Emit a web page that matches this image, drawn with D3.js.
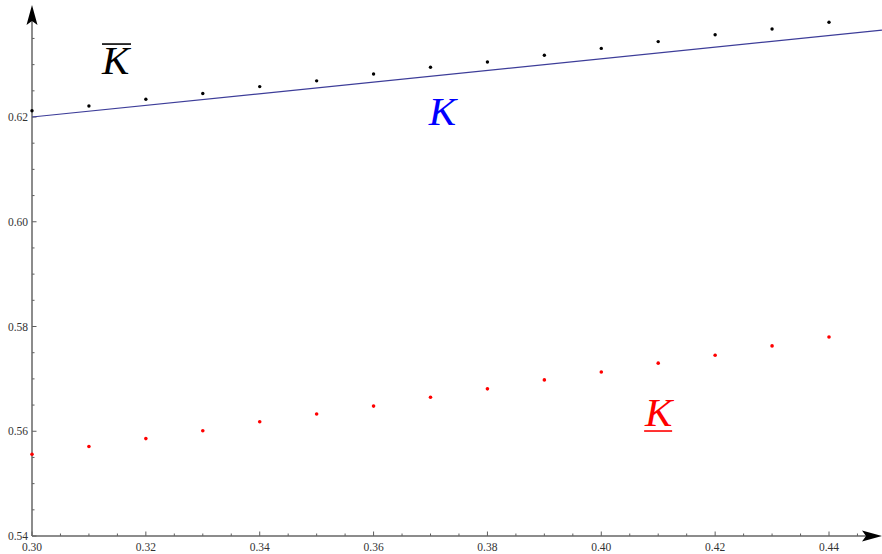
<!DOCTYPE html>
<html>
<head>
<meta charset="utf-8">
<script src="https://cdn.jsdelivr.net/npm/d3@7"></script>
<style>
  body { margin: 0; background: #fff; }
  svg { display: block; }
</style>
</head>
<body>
<svg id="chart" width="882" height="554"></svg>
<script>
// data
const xs = [0.30, 0.31, 0.32, 0.33, 0.34, 0.35, 0.36, 0.37, 0.38, 0.39, 0.40, 0.41, 0.42, 0.43, 0.44];
const upperK = [0.6212, 0.6221, 0.6234, 0.6245, 0.6258, 0.6269, 0.6282, 0.6295, 0.6305, 0.6318, 0.6331, 0.6344, 0.6357, 0.6368, 0.6381];
const lowerK = [0.5556, 0.5571, 0.5586, 0.5601, 0.5618, 0.5633, 0.5648, 0.5665, 0.5681, 0.5698, 0.5713, 0.5730, 0.5745, 0.5763, 0.5780];
const lineX = [0.30, 0.4493];
const lineY = [0.6200, 0.6366];
const xTicks = [0.30, 0.32, 0.34, 0.36, 0.38, 0.40, 0.42, 0.44];
const yTicks = [0.54, 0.56, 0.58, 0.60, 0.62];
const labels = [
    {text: 'K', x: 0.3123, y: 0.6282, color: '#000', deco: 'over'},
    {text: 'K', x: 0.3697, y: 0.6185, color: '#0000ff', deco: 'none'},
    {text: 'K', x: 0.4077, y: 0.5610, color: '#ff0000', deco: 'under'}
];

let svg = d3.select('#chart');

// scales
let xScale = d3.scaleLinear().domain([0.30, 0.44]).range([32, 829]);
let yScale = d3.scaleLinear().domain([0.54, 0.62]).range([536, 117]);
let xEnd = xScale.invert(882);
let yEnd = yScale.invert(5);

// minor ticks every 0.005
let xMinor = d3.range(0, 30).map(i => 0.30 + i * 0.005).filter(v => xScale(v) < 862);
let yMinor = d3.range(0, 21).map(i => 0.54 + i * 0.005).filter(v => yScale(v) > 24);

let axisColor = '#666';
let axes = svg.append('g');

// x axis ticks (pointing up)
axes.selectAll('.xminor')
    .data(xMinor)
    .enter()
        .append('line')
        .attr('x1', d => xScale(d))
        .attr('x2', d => xScale(d))
        .attr('y1', yScale(0.54))
        .attr('y2', d => yScale(0.54) - (xTicks.some(t => Math.abs(t - d) < 1e-6) ? 4.5 : 2.5))
        .attr('stroke', '#333')
        .attr('stroke-width', 0.8);

// y axis ticks (pointing right)
axes.selectAll('.yminor')
    .data(yMinor)
    .enter()
        .append('line')
        .attr('y1', d => yScale(d))
        .attr('y2', d => yScale(d))
        .attr('x1', xScale(0.30))
        .attr('x2', d => xScale(0.30) + (yTicks.some(t => Math.abs(t - d) < 1e-6) ? 4.5 : 2.5))
        .attr('stroke', '#333')
        .attr('stroke-width', 0.8);

// axis lines
axes.append('line')
    .attr('x1', xScale(0.30)).attr('x2', xScale(xEnd) - 10)
    .attr('y1', yScale(0.54)).attr('y2', yScale(0.54))
    .attr('stroke', axisColor).attr('stroke-width', 1.5);
axes.append('line')
    .attr('x1', xScale(0.30)).attr('x2', xScale(0.30))
    .attr('y1', yScale(0.54)).attr('y2', yScale(yEnd) + 10)
    .attr('stroke', axisColor).attr('stroke-width', 1.5);

// arrow heads
let ax = xScale(xEnd), ay = yScale(0.54);
axes.append('path')
    .attr('d', `M${ax},${ay} L${ax - 20},${ay - 5.5} L${ax - 16},${ay} L${ax - 20},${ay + 5.5} Z`)
    .attr('fill', '#000');
let bx = xScale(0.30), by = yScale(yEnd);
axes.append('path')
    .attr('d', `M${bx},${by} L${bx - 5.5},${by + 20} L${bx},${by + 16} L${bx + 5.5},${by + 20} Z`)
    .attr('fill', '#000');

// tick labels
axes.selectAll('.xlab')
    .data(xTicks)
    .enter()
        .append('text')
        .text(d => d.toFixed(2))
        .attr('x', d => xScale(d))
        .attr('y', yScale(0.54) + 15)
        .style('text-anchor', 'middle')
        .style('font-family', '"Liberation Serif", serif')
        .style('font-size', '11.5px')
        .attr('fill', '#333');
axes.selectAll('.ylab')
    .data(yTicks)
    .enter()
        .append('text')
        .text(d => d.toFixed(2))
        .attr('x', xScale(0.30) - 4)
        .attr('y', d => yScale(d) + 4)
        .style('text-anchor', 'end')
        .style('font-family', '"Liberation Serif", serif')
        .style('font-size', '11.5px')
        .attr('fill', '#333');

// the blue line
let line = d3.line()
    .x(d => xScale(d[0]))
    .y(d => yScale(d[1]));
svg.append('path')
    .datum(lineX.map((v, i) => [v, lineY[i]]))
    .attr('d', line)
    .attr('fill', 'none')
    .attr('stroke', '#3d3d99')
    .attr('stroke-width', 1.2);

// points
svg.append('g').selectAll('circle')
    .data(xs)
    .enter()
        .append('circle')
        .attr('cx', d => xScale(d))
        .attr('cy', (d, i) => yScale(upperK[i]))
        .attr('r', 1.7)
        .attr('fill', '#000');
svg.append('g').selectAll('circle')
    .data(xs)
    .enter()
        .append('circle')
        .attr('cx', d => xScale(d))
        .attr('cy', (d, i) => yScale(lowerK[i]))
        .attr('r', 1.8)
        .attr('fill', '#ff0000');

// labels with over / under bars
labels.forEach(l => {
    let t = svg.append('text')
        .text(l.text)
        .attr('x', xScale(l.x))
        .attr('y', yScale(l.y))
        .style('font-family', '"Liberation Serif", serif')
        .style('font-style', 'italic')
        .style('font-size', '41px')
        .attr('fill', l.color);
    let bb = t.node().getBBox();
    if (l.deco === 'over') {
        svg.append('line')
            .attr('x1', bb.x + 1).attr('x2', bb.x + bb.width - 1)
            .attr('y1', yScale(l.y) - 30).attr('y2', yScale(l.y) - 30)
            .attr('stroke', l.color).attr('stroke-width', 1.6);
    } else if (l.deco === 'under') {
        svg.append('line')
            .attr('x1', bb.x).attr('x2', bb.x + bb.width - 3)
            .attr('y1', yScale(l.y) + 5).attr('y2', yScale(l.y) + 5)
            .attr('stroke', l.color).attr('stroke-width', 1.6);
    }
});
</script>
</body>
</html>
